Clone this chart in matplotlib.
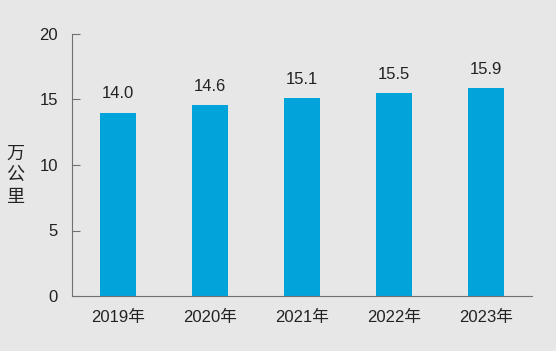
import matplotlib.pyplot as plt

years = ['2019年', '2020年', '2021年', '2022年', '2023年']
values = [14.0, 14.6, 15.1, 15.5, 15.9]
yticks = [0, 5, 10, 15, 20]

plt.rcParams['font.family'] = ['Liberation Sans', 'Noto Sans CJK SC', 'DejaVu Sans']

bg = '#e7e7e7'
fig = plt.figure(figsize=(5.56, 3.51), dpi=100, facecolor=bg)
ax = fig.add_axes([72/556, 55/351, 460/556, 262/351], facecolor=bg)

x = range(len(years))
ax.bar(x, values, width=0.4, color='#00a3da')
for i, v in zip(x, values):
    ax.text(i, v + 0.85, f'{v:.1f}', ha='center', va='bottom', fontsize=12, color='#222222')

ax.set_xlim(-0.5, len(years) - 0.5)
ax.set_ylim(0, 20)
ax.set_yticks(yticks)
ax.set_xticks(list(x))
ax.set_xticklabels(years, fontsize=12, color='#222222')
ax.tick_params(axis='y', direction='in', length=6, color='#707070', labelsize=12, labelcolor='#222222', pad=10)
ax.tick_params(axis='x', length=0, pad=10)
for s in ['top', 'right']:
    ax.spines[s].set_visible(False)
for s in ['left', 'bottom']:
    ax.spines[s].set_color('#707070')

fig.text(15/556, 1 - 175/351, '万\n公\n里', ha='center', va='center', fontsize=13,
         linespacing=1.25, family=['Noto Sans CJK SC', 'DejaVu Sans'], color='#222222')

fig.savefig('out.png', dpi=100, facecolor=bg)
